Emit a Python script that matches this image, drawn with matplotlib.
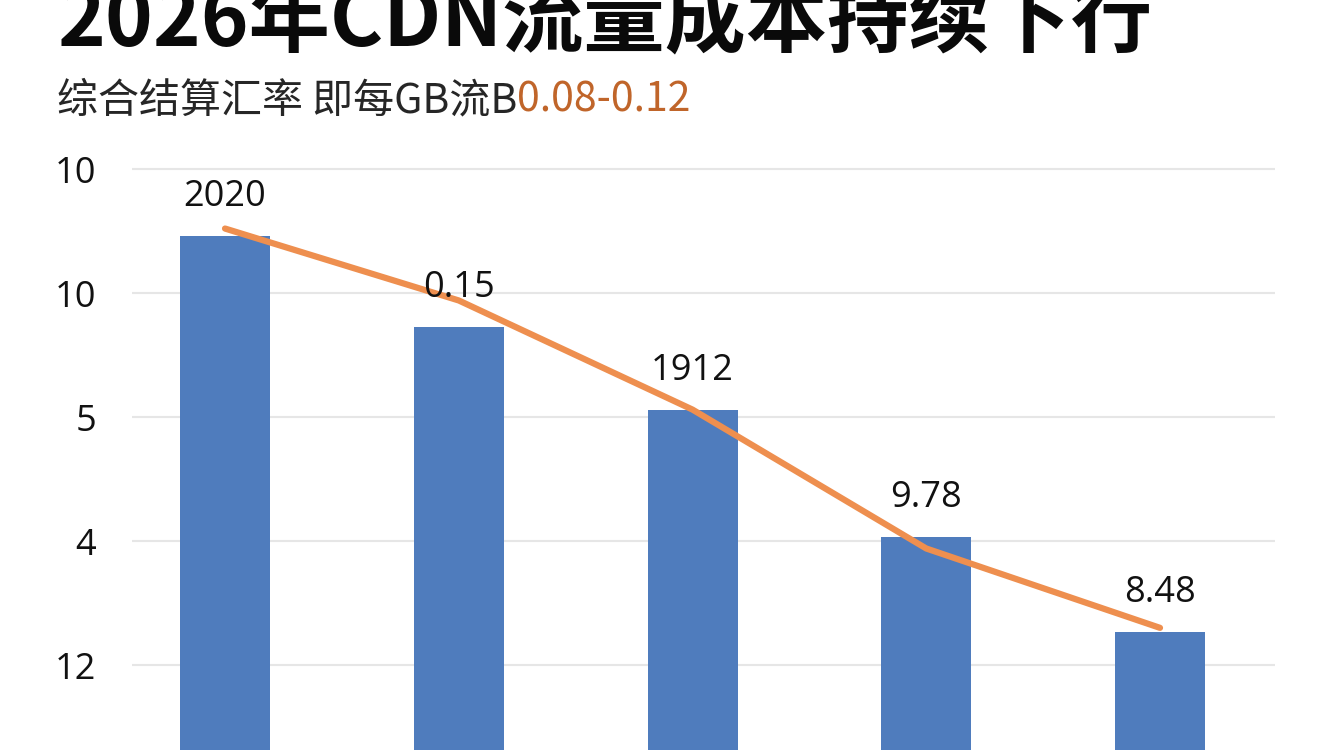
import matplotlib.pyplot as plt

plt.rcParams['font.family'] = ['Noto Sans CJK SC', 'DejaVu Sans']

# values (axis units = gridline steps)
positions = [0, 1, 2, 3, 4]
bar_values = [3.46, 2.73, 2.06, 1.03, 0.27]
line_values = [3.52, 2.94, 2.06, 0.94, 0.30]
bar_labels = ['2020', '0.15', '1912', '9.78', '8.48']
tick_pos = [0, 1, 2, 3, 4]
tick_labels = ['12', '4', '5', '10', '10']

title = '2026年CDN流量成本持续下行'
subtitle_a = '综合结算汇率 即每GB流B'
subtitle_b = '0.08-0.12'

num_font = ['Open Sans', 'Noto Sans CJK SC']

W, H = 1344, 750
fig = plt.figure(figsize=(W / 100, H / 100), dpi=100)
fig.patch.set_facecolor('white')

ax = fig.add_axes([132 / W, 0, (1275 - 132) / W, 1])
ax.set_facecolor('none')
ax.set_xlim(-0.398, 4.492)
ax.set_ylim(-0.685, 5.363)

ax.bar(positions, [v + 1 for v in bar_values], bottom=-1, width=0.385,
       color='#4f7cbd', zorder=2)
ax.plot(positions, line_values, color='#ee8f4f', linewidth=4.5,
        solid_capstyle='round', solid_joinstyle='round', zorder=3)

for x, v, s in zip(positions, bar_values, bar_labels):
    ax.annotate(s, (x, v), xytext=(0, 28), textcoords='offset points',
                ha='center', va='center', fontsize=26, color='#111111',
                family=num_font, zorder=4)

ax.set_yticks(tick_pos)
ax.set_yticklabels(tick_labels, family=num_font)
ax.tick_params(axis='y', length=0, pad=26, labelsize=26, labelcolor='#111111')
ax.set_xticks([])
ax.yaxis.grid(True, color='#e6e6e6', linewidth=1.5, zorder=0)
ax.set_axisbelow(True)
for sp in ax.spines.values():
    sp.set_visible(False)

fig.text(57 / W, 1 - 46 / H, title, fontsize=58.5, fontweight='heavy',
         color='#0a0a0a', ha='left', va='baseline')

t1 = fig.text(57 / W, 1 - 112 / H, subtitle_a, fontsize=29.5, color='#262626',
              ha='left', va='baseline')
fig.canvas.draw()
bb = t1.get_window_extent()
fig.text(bb.x1 / W, 1 - 112 / H, subtitle_b, fontsize=29.5, color='#c0652a',
         ha='left', va='baseline')

fig.savefig('out.png', dpi=100)
